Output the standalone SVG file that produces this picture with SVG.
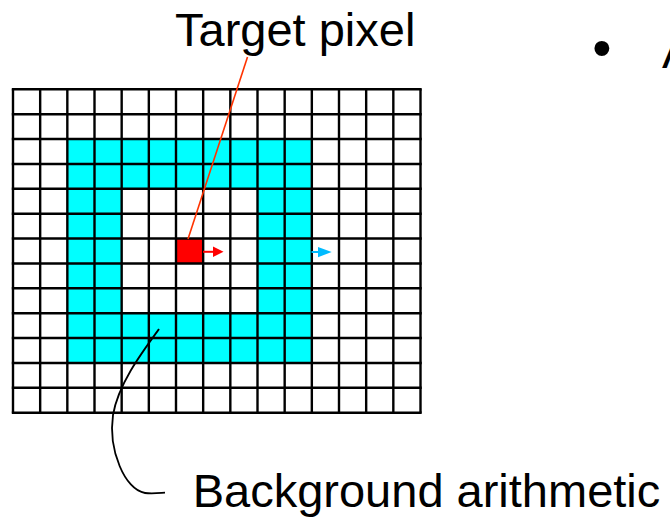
<svg xmlns="http://www.w3.org/2000/svg" width="670" height="517" viewBox="0 0 670 517">
  <style>
    .lbl { font-family: "Liberation Sans", Arial, sans-serif; font-size: 47px; fill: #000; }
    .grid line { stroke: #000; stroke-width: 2.4; }
    .cy { fill: #00ffff; }
  </style>
  <rect width="670" height="517" fill="#fff"/>
  <g id="cells">
    <rect class="cy" x="67.3" y="139" width="244.5" height="49.8"/>
    <rect class="cy" x="67.3" y="188.8" width="54.4" height="124.4"/>
    <rect class="cy" x="257.5" y="188.8" width="54.3" height="124.4"/>
    <rect class="cy" x="67.3" y="313.2" width="244.5" height="49.7"/>
    <rect id="target" x="176" y="238.6" width="27.2" height="24.8" fill="#ff0000"/>
  </g>
  <g id="grid" class="grid">
    <line x1="13" y1="89.3" x2="13" y2="412.7"/>
    <line x1="40.17" y1="89.3" x2="40.17" y2="412.7"/>
    <line x1="67.33" y1="89.3" x2="67.33" y2="412.7"/>
    <line x1="94.5" y1="89.3" x2="94.5" y2="412.7"/>
    <line x1="121.67" y1="89.3" x2="121.67" y2="412.7"/>
    <line x1="148.83" y1="89.3" x2="148.83" y2="412.7"/>
    <line x1="176" y1="89.3" x2="176" y2="412.7"/>
    <line x1="203.17" y1="89.3" x2="203.17" y2="412.7"/>
    <line x1="230.33" y1="89.3" x2="230.33" y2="412.7"/>
    <line x1="257.5" y1="89.3" x2="257.5" y2="412.7"/>
    <line x1="284.67" y1="89.3" x2="284.67" y2="412.7"/>
    <line x1="311.83" y1="89.3" x2="311.83" y2="412.7"/>
    <line x1="339" y1="89.3" x2="339" y2="412.7"/>
    <line x1="366.17" y1="89.3" x2="366.17" y2="412.7"/>
    <line x1="393.33" y1="89.3" x2="393.33" y2="412.7"/>
    <line x1="420.5" y1="89.3" x2="420.5" y2="412.7"/>
    <line x1="11.8" y1="89.3" x2="421.7" y2="89.3"/>
    <line x1="11.8" y1="114.18" x2="421.7" y2="114.18"/>
    <line x1="11.8" y1="139.05" x2="421.7" y2="139.05"/>
    <line x1="11.8" y1="163.93" x2="421.7" y2="163.93"/>
    <line x1="11.8" y1="188.8" x2="421.7" y2="188.8"/>
    <line x1="11.8" y1="213.68" x2="421.7" y2="213.68"/>
    <line x1="11.8" y1="238.56" x2="421.7" y2="238.56"/>
    <line x1="11.8" y1="263.43" x2="421.7" y2="263.43"/>
    <line x1="11.8" y1="288.31" x2="421.7" y2="288.31"/>
    <line x1="11.8" y1="313.18" x2="421.7" y2="313.18"/>
    <line x1="11.8" y1="338.06" x2="421.7" y2="338.06"/>
    <line x1="11.8" y1="362.94" x2="421.7" y2="362.94"/>
    <line x1="11.8" y1="387.81" x2="421.7" y2="387.81"/>
    <line x1="11.8" y1="412.7" x2="421.7" y2="412.7"/>
  </g>
  <g id="connectors">
    <line x1="247.5" y1="57" x2="188" y2="239" stroke="#ff3300" stroke-width="1.6"/>
    <line x1="203" y1="251.8" x2="214" y2="251.8" stroke="#ff0000" stroke-width="2"/>
    <polygon points="213,246.5 223.5,251.8 213,257" fill="#ff0000"/>
    <line x1="311.5" y1="252" x2="319" y2="252" stroke="#00bbff" stroke-width="2"/>
    <polygon points="318,247 331.7,252 318,257.2" fill="#00bbff"/>
    <path d="M159,329 C140,355 118,385 113,415 C108,450 125,490 145,493 C152,494 160,493 165,492.7" fill="none" stroke="#000" stroke-width="1.8"/>
  </g>
  <g id="labels">
    <text class="lbl" x="175" y="45.7">Target pixel</text>
    <text class="lbl" x="192.7" y="506.7">Background arithmetic</text>
    <text class="lbl" x="602" y="67" font-size="55" text-anchor="middle" style="font-size:55px">•</text>
    <text class="lbl" x="662" y="68">A</text>
  </g>
</svg>
